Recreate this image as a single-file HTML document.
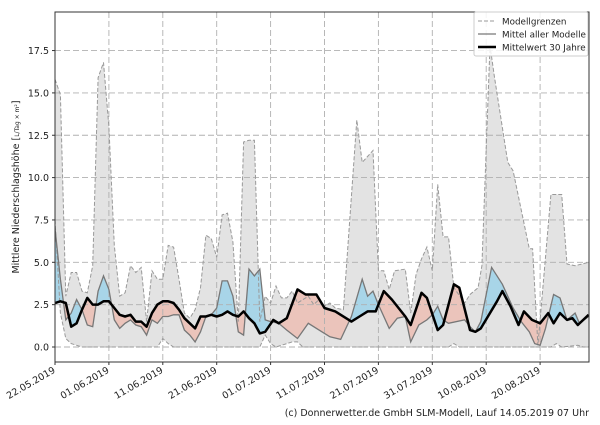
<!DOCTYPE html>
<html><head><meta charset="utf-8"><style>
body{margin:0;background:#fff;font-family:"Liberation Sans","DejaVu Sans",sans-serif}
svg text{font-family:"DejaVu Sans","Liberation Sans",sans-serif}
</style></head><body>
<svg id="s" width="600" height="420" xmlns="http://www.w3.org/2000/svg"></svg>
<script>
const upE=[15.8,14.9,3.0,4.4,4.4,3.3,3.2,4.8,15.9,16.8,13,6,3,3.2,4.8,4.4,4.7,1.5,4.5,4,4,6,5.9,4,2,1.7,2.2,3.5,6.6,6.4,5.3,7.8,7.9,6.2,1.5,12.1,12.2,12.2,1.5,3];
const loE=[7.5,2,0.5,0.2,0.1,0,0,0,0,0,0,0,0,0,0,0,0,0,0,0,0.5,0.2,0,0,0,0,0,0,0,0,0,0,0,0,0,0,0,0,0,0.7];
const mdE=[7,4,1.6,2.0,2.8,2.2,1.3,1.2,3.3,4.2,3.4,1.6,1.1,1.4,1.6,1.3,1.2,0.7,1.6,1.4,1.8,1.8,1.9,1.9,1.0,0.7,0.3,0.9,1.8,1.9,2.3,3.9,3.9,3.0,0.9,0.7,4.6,4.2,4.6,1.6];
const clE=[2.6,2.7,2.6,1.2,1.4,2.2,2.9,2.5,2.5,2.7,2.7,2.3,1.9,1.8,1.9,1.5,1.5,1.2,2.0,2.5,2.7,2.7,2.6,2.2,1.7,1.4,1.1,1.8,1.8,1.9,1.8,1.9,2.1,1.9,1.8,2.1,1.7,1.4,0.8,0.9];
const E=a=>a.map((v,i)=>[i,v]);
const upK=E(upE).concat([[40,2.6],[41,3.6],[42,2.9],[43,2.9],[44,3.3],[45,2.6],[46,2.8],[47,3.0],[48,2.5],[49,2.8],[50,2.4],[51,2.6],[52,2.3],[53.5,2.2],[56,13.4],[57,10.9],[59,11.6],[60,4.5],[61,4.5],[62,3.4],[63,4.5],[65,4.6],[66,2.0],[67,4.3],[68,5.2],[69,5.9],[70,4.5],[71,9.6],[72,6.5],[73,6.5],[74,3.5],[76,2.6],[77,3.1],[78.5,3.5],[79.2,4.8],[80.7,17.8],[81.5,16],[84,10.9],[85,10.4],[88,5.8],[88.6,5.8],[89.6,0.1],[92,9.0],[94,9.0],[95,4.9],[96.5,4.8],[99,5.0]]);
const loK=E(loE).concat([[40,0.2],[41,0],[44,0.3],[45,0.3],[46,0],[73,0],[74,0.2],[75,0],[92,0],[93,0.2],[94,0],[97,0.1],[98,0],[99,0]]);
const mdK=E(mdE).concat([[40,1.5],[41.5,1.4],[43,1.0],[45,0.5],[47,1.4],[49,1.0],[51,0.6],[53,0.45],[55,1.8],[57,4.0],[58,3.0],[59,3.3],[60,2.5],[62,1.1],[63.5,1.7],[65,1.8],[66,0.3],[67.5,1.3],[69,1.6],[70,1.9],[71,2.4],[72,1.6],[73,1.4],[76,1.6],[77,1.2],[78,0.9],[79,1.5],[81,4.7],[83,3.7],[85,2.3],[86.5,1.5],[88,0.9],[89,0.2],[90,0.1],[91,1.1],[92.5,3.1],[93.7,2.9],[95,1.6],[96.5,2.0],[97.3,1.4],[99,1.8]]);
const clK=E(clE).concat([[40.5,1.6],[41.5,1.4],[43,1.7],[45,3.4],[46.5,3.1],[48.5,3.1],[50,2.3],[52,2.1],[54,1.7],[55,1.5],[56.5,1.8],[58,2.1],[59.5,2.1],[61,3.3],[62.5,2.8],[65,1.8],[66,1.3],[68,3.2],[69,2.9],[71,1.0],[72,1.3],[74,3.7],[75,3.5],[77,1.0],[78,0.9],[79,1.1],[82,2.7],[83,3.3],[84.5,2.4],[86,1.3],[87,2.1],[88.5,1.6],[90,1.4],[91.5,2.0],[92.5,1.4],[93.7,2.0],[95,1.6],[96,1.7],[97,1.3],[99,1.9]]);
function rs(k){const o=[];for(let d=0;d<=99.001;d+=0.25){let j=0;while(j<k.length-2&&k[j+1][0]<d)j++;const a=k[j],b=k[j+1];const t=Math.max(0,Math.min(1,(d-a[0])/(b[0]-a[0])));o.push([d,a[1]+(b[1]-a[1])*t]);}return o;}
const X=d=>55+d*5.39, Y=v=>347-v*16.94;
const L=55,R=589,T=12,B=362;
const P=k=>k.map(p=>`${X(p[0]).toFixed(1)},${Y(p[1]).toFixed(1)}`);
const up=upK,lo=loK,md=rs(mdK),cl=rs(clK);
let h=`<defs><clipPath id="pa"><rect x="${L}" y="${T}" width="${R-L}" height="${B-T}"/></clipPath>
<clipPath id="ab"><polygon points="${P(cl).join(' ')} ${X(99)},0 ${X(0)},0"/></clipPath>
<clipPath id="be"><polygon points="${P(cl).join(' ')} ${X(99)},420 ${X(0)},420"/></clipPath></defs>`;
h+=`<g clip-path="url(#pa)">`;
h+=`<polygon points="${P(up).join(' ')} ${P(lo).reverse().join(' ')}" fill="#e3e3e3"/>`;
const bw=`${P(md).join(' ')} ${P(cl).reverse().join(' ')}`;
h+=`<g clip-path="url(#ab)"><polygon points="${bw}" fill="#a8d5e8"/></g>`;
h+=`<g clip-path="url(#be)"><polygon points="${bw}" fill="#ebc4bb"/></g>`;
for(let v=0;v<=17.5;v+=2.5)h+=`<line x1="${L}" x2="${R}" y1="${Y(v)}" y2="${Y(v)}" stroke="#b0b0b0" stroke-dasharray="6,3" stroke-width="0.9"/>`;
for(let d=0;d<=90;d+=10)h+=`<line x1="${X(d)}" x2="${X(d)}" y1="${T}" y2="${B}" stroke="#b0b0b0" stroke-dasharray="6,3" stroke-width="0.9"/>`;
h+=`<polyline points="${P(up).join(' ')}" fill="none" stroke="#999" stroke-dasharray="4,2" stroke-width="1"/>`;
h+=`<polyline points="${P(lo).join(' ')}" fill="none" stroke="#999" stroke-dasharray="4,2" stroke-width="1"/>`;
h+=`<polyline points="${P(mdK).join(' ')}" fill="none" stroke="#777" stroke-width="1.3"/>`;
h+=`<polyline points="${P(clK).join(' ')}" fill="none" stroke="#000" stroke-width="2.5" stroke-linejoin="round"/>`;
h+=`</g><rect x="${L}" y="${T}" width="${R-L}" height="${B-T}" fill="none" stroke="#333" stroke-width="1"/>`;
for(let v=0;v<=17.5;v+=2.5){h+=`<line x1="${L-3}" x2="${L}" y1="${Y(v)}" y2="${Y(v)}" stroke="#333"/><text x="${L-6}" y="${Y(v)+3.5}" font-size="9.5" text-anchor="end" fill="#222">${v.toFixed(1)}</text>`;}
const dl=["22.05.2019","01.06.2019","11.06.2019","21.06.2019","01.07.2019","11.07.2019","21.07.2019","31.07.2019","10.08.2019","20.08.2019"];
dl.forEach((t,i)=>{const x=X(i*10);h+=`<line x1="${x}" x2="${x}" y1="${B}" y2="${B+3}" stroke="#333"/><text transform="translate(${x+1},${B+10}) rotate(-30)" font-size="9.5" text-anchor="end" fill="#222">${t}</text>`;});
h+=`<text transform="translate(19,187) rotate(-90)" font-size="9.5" text-anchor="middle" fill="#222">Mittlere Niederschlagshöhe [<tspan font-size="6">L/Tag × m²</tspan>]</text>`;
h+=`<rect x="474" y="12" width="114" height="44" fill="#fff" fill-opacity="0.85" stroke="#ccc" rx="2"/>
<line x1="478" x2="496" y1="21" y2="21" stroke="#999" stroke-dasharray="4,2"/><text x="502" y="24.5" font-size="8.8" fill="#222">Modellgrenzen</text>
<line x1="478" x2="496" y1="34" y2="34" stroke="#777" stroke-width="1.3"/><text x="502" y="37.5" font-size="8.8" fill="#222">Mittel aller Modelle</text>
<line x1="478" x2="496" y1="47" y2="47" stroke="#000" stroke-width="2.5"/><text x="502" y="50.5" font-size="8.8" fill="#222">Mittelwert 30 Jahre</text>`;
h+=`<text x="589" y="416" font-size="9.5" text-anchor="end" fill="#222">(c) Donnerwetter.de GmbH SLM-Modell, Lauf 14.05.2019 07 Uhr</text>`;
document.getElementById('s').innerHTML=h;
</script>
</body></html>
